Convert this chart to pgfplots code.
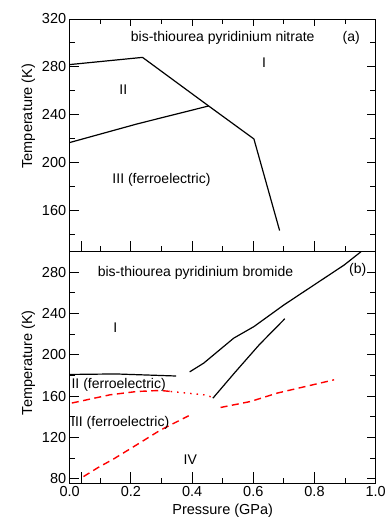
\documentclass[border=0pt]{standalone}
\usepackage{fontspec}
\setmainfont{Liberation Sans}
\usepackage{pgfplots}
\pgfplotsset{compat=1.18}

\begin{document}
\begin{tikzpicture}
\tikzset{
  lbl/.style={font=\fontsize{14bp}{16bp}\selectfont, inner sep=0pt},
  tk/.style={black, line width=1bp},
}
% page frame
\path (-69.7bp,-46.7bp) rectangle (320.3bp,483.3bp);
\pgfplotsset{
  panel/.style={
    scale only axis, width=306bp, xmin=0, xmax=1,
    axis line style={line width=0.9bp},
    /pgf/number format/assume math mode=true,
    tick label style={font=\fontsize{14.5bp}{17bp}\selectfont},
    label style={font=\fontsize{14.5bp}{17bp}\selectfont},
    xtick={0,0.2,0.4,0.6,0.8,1},
    minor xtick={0.1,0.3,0.5,0.7,0.9},
    xticklabel style={/pgf/number format/fixed, /pgf/number format/fixed zerofill,
      /pgf/number format/precision=1},
    major tick length=0pt, minor tick length=0pt,
    clip=false,
  },
  bound/.style={black, line width=1.2bp},
  redd/.style={red, line width=1.4bp, dash pattern=on 7bp off 4.5bp},
}

% (a) bis-thiourea pyridinium nitrate
\begin{axis}[panel, at={(0,231.6bp)}, anchor=south west, height=232.7bp,
  ymin=126, ymax=320,
  ytick={160,200,240,280,320}, minor ytick={140,180,220,260,300},
  xticklabels={},
  ylabel={Temperature (K)},
  ylabel style={at={(ticklabel cs:0.583)}},
]
\addplot[bound] coordinates {(0,282) (0.238,288) (0.454,247.5) (0.602,220) (0.686,143.6)};
\addplot[bound] coordinates {(0,217) (0.22,232.5) (0.454,247.5)};
\node[lbl] at (axis cs:0.5,304.5) {bis-thiourea pyridinium nitrate};
\node[lbl] at (axis cs:0.92,304.5) {(a)};
\node[lbl] at (axis cs:0.635,283.5) {I};
\node[lbl] at (axis cs:0.175,261) {II};
\node[lbl] at (axis cs:0.30,186) {III (ferroelectric)};
\end{axis}

% (b) bis-thiourea pyridinium bromide
\begin{axis}[panel, at={(0,0)}, anchor=south west, height=231.6bp,
  ymin=75.5, ymax=300,
  ytick={80,120,160,200,240,280}, minor ytick={100,140,180,220,260},
  xlabel={Pressure (GPa)},
  ylabel={Temperature (K)},
  ylabel style={at={(ticklabel cs:0.52)}},
]
\addplot[bound] coordinates {(0,181) (0.15,181.5) (0.348,179.5)};
\addplot[bound] coordinates {(0.392,183.5) (0.438,192) (0.536,216.2) (0.602,227.4) (0.70,248.4) (0.897,287.1) (0.952,300)};
\addplot[bound] coordinates {(0.468,158) (0.54,183) (0.62,210) (0.703,235)};
\addplot[redd] coordinates {(0.007,153.3) (0.132,161.3) (0.22,164.5) (0.296,165.5) (0.33,164.5)};
\addplot[red, line width=1.4bp, dash pattern=on 1.5bp off 5bp] coordinates {(0.33,164.5) (0.438,161.3) (0.466,159)};
\addplot[redd] coordinates {(0.493,149) (0.591,154.8) (0.679,163) (0.864,175.8)};
\addplot[redd] coordinates {(0.045,82) (0.094,91) (0.143,99) (0.22,113) (0.296,127) (0.389,141)};
\node[lbl] at (axis cs:0.411,279) {bis-thiourea pyridinium bromide};
\node[lbl] at (axis cs:0.941,282.3) {(b)};
\node[lbl] at (axis cs:0.149,226.8) {I};
\node[lbl] at (axis cs:0.16,171) {II (ferroelectric)};
\node[lbl] at (axis cs:0.165,134.5) {III (ferroelectric)};
\node[lbl] at (axis cs:0.394,98.4) {IV};
\end{axis}

% inward tick marks of both panels (positions in bp from the lower-left corner)
% temperature ticks, panel (a): 160..280 K major, 140..300 K minor
\foreach \y in {272.4,320.4,368.4,416.4} {
  \draw[tk] (0,\y bp) -- ++(9bp,0);
  \draw[tk] (306bp,\y bp) -- ++(-9bp,0);}
\foreach \y in {248.4,296.4,344.4,392.4,440.4} {
  \draw[tk] (0,\y bp) -- ++(5.5bp,0);
  \draw[tk] (306bp,\y bp) -- ++(-5.5bp,0);}
% temperature ticks, panel (b): 80..280 K major, 100..260 K minor
\foreach \y in {4.64,45.91,87.17,128.44,169.70,210.97} {
  \draw[tk] (0,\y bp) -- ++(9bp,0);
  \draw[tk] (306bp,\y bp) -- ++(-9bp,0);}
\foreach \y in {25.27,66.54,107.80,149.07,190.33} {
  \draw[tk] (0,\y bp) -- ++(5.5bp,0);
  \draw[tk] (306bp,\y bp) -- ++(-5.5bp,0);}
% pressure ticks: 0.2 GPa major (plus one at 0.04), 0.1 GPa minor
\foreach \x in {12.24,61.2,122.4,183.6,244.8} {
  \draw[tk] (\x bp,231.6bp) -- ++(0,11bp);
  \draw[tk] (\x bp,0) -- ++(0,11bp);}
\foreach \x in {30.6,91.8,153,214.2,275.4} {
  \draw[tk] (\x bp,231.6bp) -- ++(0,5.5bp);
  \draw[tk] (\x bp,0) -- ++(0,5.5bp);
  \draw[tk] (\x bp,464.3bp) -- ++(0,-5bp);}
\foreach \x in {61.2,122.4,183.6,244.8} {
  \draw[tk] (\x bp,464.3bp) -- ++(0,-7bp);}
\end{tikzpicture}
\end{document}
